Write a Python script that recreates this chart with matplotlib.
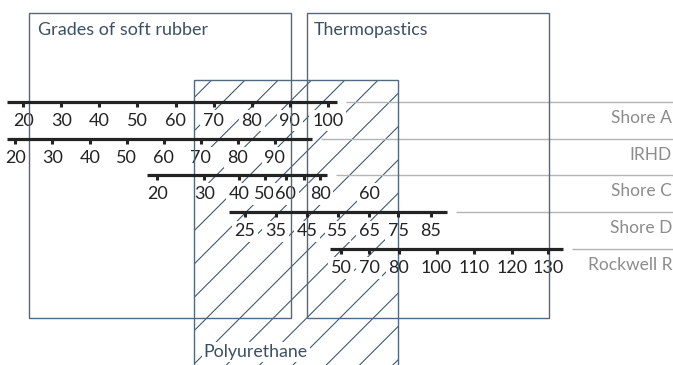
import matplotlib
matplotlib.use("Agg")
import matplotlib.pyplot as plt
from matplotlib.patches import Rectangle
from matplotlib.lines import Line2D

plt.rcParams['font.family'] = ['Lato', 'DejaVu Sans']

# Hardness scales, each placed on a common axis of Shore A equivalents
scale_names = ["Shore A", "IRHD", "Shore C", "Shore D", "Rockwell R"]

shore_a_values = [20, 30, 40, 50, 60, 70, 80, 90, 100]
shore_a_pos = [20, 30, 40, 50, 60, 70, 80, 90, 100]
shore_a_span = (15.7, 102.4)

irhd_values = [20, 30, 40, 50, 60, 70, 80, 90]
irhd_pos = [17.9, 27.6, 37.5, 47.2, 56.9, 66.6, 76.3, 86.1]
irhd_span = (15.7, 95.9)

shore_c_values = [20, 30, 40, 50, 60, 70, 80]
shore_c_labels = ["20", "30", "40", "50", "60", "", "80"]
shore_c_pos = [55.2, 67.6, 76.7, 83.5, 89.0, 93.8, 98.0]
shore_c_span = (52.4, 99.8)
shore_c_extra_label = "60"
shore_c_extra_pos = 111.1

shore_d_values = [25, 35, 45, 55, 65, 75, 85]
shore_d_pos = [78.3, 86.3, 94.5, 102.7, 110.9, 118.6, 127.1]
shore_d_span = (74.1, 131.3)

rockwell_r_values = [50, 70, 80, 100, 110, 120, 130]
rockwell_r_pos = [103.5, 110.9, 118.7, 128.6, 138.5, 148.4, 158.0]
rockwell_r_span = (100.6, 161.8)

# Material ranges (Shore A equivalents)
material_names = ["Grades of soft rubber", "Thermopastics", "Polyurethane"]
soft_rubber_range = (21.5, 90.3)
thermoplastics_range = (94.5, 158.2)
polyurethane_range = (64.9, 118.6)

# ---- layout ----
W, H = 673, 365
PX_PER_UNIT = 3.805
X_AT_20 = 23.3
x_lo = 20 - X_AT_20 / PX_PER_UNIT
x_hi = 20 + (W - X_AT_20) / PX_PER_UNIT

row_y = [101.7, 138.7, 175.0, 212.3, 249.0]
box_top, box_bottom = 12.7, 317.7
pu_top = 80.0

ink = "#232323"
box_col = "#52697f"
hatch_col = "#34506a"
label_grey = "#8c8c8c"
sep_grey = "#b4b4b4"
title_col = "#3c5064"

fig = plt.figure(figsize=(W / 100, H / 100), dpi=100)
ax_bg = fig.add_axes([0, 0, 1, 1], zorder=0)
ax_bg.set_xlim(0, W)
ax_bg.set_ylim(H, 0)
ax_bg.axis('off')

ax = fig.add_axes([0, 0, 1, 1], zorder=1)
ax.set_xlim(x_lo, x_hi)
ax.set_ylim(H, 0)
ax.axis('off')
ax.patch.set_alpha(0)

# Material boxes
soft_box = Rectangle((soft_rubber_range[0], box_top),
                     soft_rubber_range[1] - soft_rubber_range[0],
                     box_bottom - box_top, fill=False, ec=box_col, lw=1.0, zorder=6)
thermo_box = Rectangle((thermoplastics_range[0], box_top),
                       thermoplastics_range[1] - thermoplastics_range[0],
                       box_bottom - box_top, fill=False, ec=box_col, lw=1.0, zorder=6)
pu_box = Rectangle((polyurethane_range[0], pu_top),
                   polyurethane_range[1] - polyurethane_range[0],
                   H + 20 - pu_top, fill=False, ec=box_col, lw=1.0, zorder=6)
for b in (soft_box, thermo_box, pu_box):
    ax.add_patch(b)

# Diagonal hatching of the polyurethane range
spacing = 33.3
start = 211.7
for k in range(-15, 25):
    xt = start + k * spacing
    ln = Line2D([xt, xt - 320], [pu_top, pu_top + 320], color=hatch_col, lw=0.75)
    ax_bg.add_line(ln)
    ln.set_clip_path(pu_box)

ax.text(soft_rubber_range[0] + 8.5 / PX_PER_UNIT, 35, material_names[0],
        fontsize=13, color=title_col, ha='left', va='baseline', zorder=5)
ax.text(thermoplastics_range[0] + 7 / PX_PER_UNIT, 35, material_names[1],
        fontsize=12.8, color=title_col, ha='left', va='baseline', zorder=5)
ax.text(polyurethane_range[0] + 9.5 / PX_PER_UNIT, 357, material_names[2],
        fontsize=12.8, color=title_col, ha='left', va='baseline', zorder=5,
        bbox=dict(boxstyle='square,pad=0.1', fc='white', ec='none'))

scales = [
    (shore_a_pos, [str(v) for v in shore_a_values], shore_a_span),
    (irhd_pos, [str(v) for v in irhd_values], irhd_span),
    (shore_c_pos, shore_c_labels, shore_c_span),
    (shore_d_pos, [str(v) for v in shore_d_values], shore_d_span),
    (rockwell_r_pos, [str(v) for v in rockwell_r_values], rockwell_r_span),
]

gap = 9 / PX_PER_UNIT
tick_len = 5.0
num_bbox = dict(boxstyle='square,pad=0.15', fc='white', ec='none')
for name, (pos, labels, span), y in zip(scale_names, scales, row_y):
    ax.hlines(y, span[0], span[1], color=ink, lw=2.3, zorder=8)
    ax.vlines(pos, y, y + tick_len, color=ink, lw=2.2, zorder=8)
    for p, lab in zip(pos, labels):
        if lab:
            ax.text(p, y + 24, lab, fontsize=13, color=ink, ha='center',
                    va='baseline', zorder=5, bbox=num_bbox)
    ax.hlines(y, span[1] + gap, x_hi, color=sep_grey, lw=1.0, zorder=3)
    ax_bg.text(W - 1, y + 21, name, fontsize=12.5, color=label_grey,
               ha='right', va='baseline')

ax.text(shore_c_extra_pos, row_y[2] + 24, shore_c_extra_label, fontsize=13,
        color=ink, ha='center', va='baseline', zorder=5, bbox=num_bbox)

fig.savefig("out.png", dpi=100)
